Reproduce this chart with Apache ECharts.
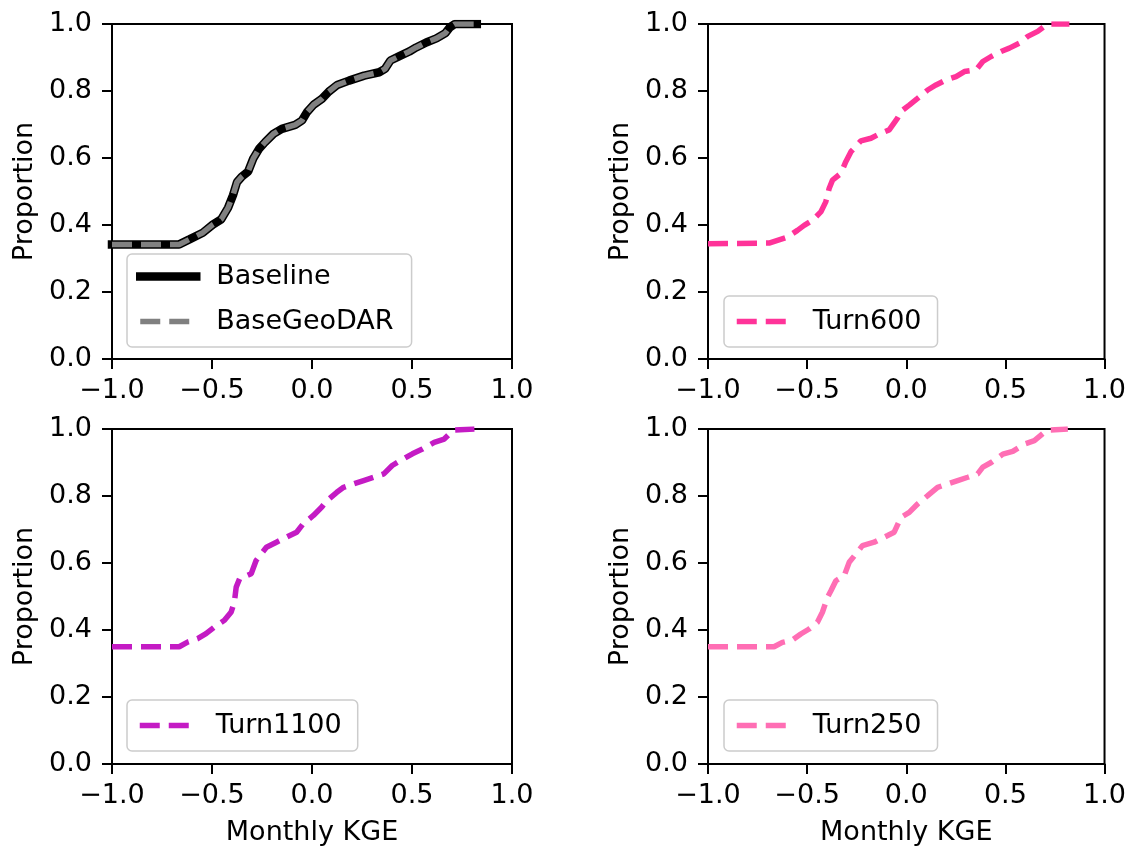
<!DOCTYPE html>
<html>
<head>
<meta charset="utf-8">
<script src="https://cdn.jsdelivr.net/npm/echarts@6/dist/echarts.min.js"></script>
<style>
html,body{margin:0;padding:0;background:#fff;}
#chart{width:1129px;height:848px;}
</style>
</head>
<body>
<div id="chart"></div>
<script>
// ---- data ----
const xTicks = [-1.0, -0.5, 0.0, 0.5, 1.0];
const yTicks = [0.0, 0.2, 0.4, 0.6, 0.8, 1.0];

const baselineX = [-1.000,-0.664,-0.613,-0.546,-0.496,-0.454,-0.420,-0.395,-0.375,-0.353,-0.319,-0.294,-0.264,-0.235,-0.193,-0.151,-0.084,-0.050,-0.025,0.008,0.050,0.084,0.126,0.185,0.261,0.336,0.365,0.392,0.437,0.487,0.521,0.571,0.622,0.667,0.689,0.714,0.824];
const baselineY = [0.342,0.342,0.357,0.377,0.401,0.417,0.451,0.489,0.528,0.543,0.560,0.598,0.628,0.647,0.672,0.687,0.699,0.712,0.737,0.759,0.777,0.798,0.818,0.831,0.846,0.856,0.866,0.891,0.904,0.918,0.930,0.945,0.957,0.973,0.990,1.000,1.000];

const baseGeoDarX = [-1.000,-0.664,-0.613,-0.546,-0.496,-0.454,-0.420,-0.395,-0.375,-0.353,-0.319,-0.294,-0.264,-0.235,-0.193,-0.151,-0.084,-0.050,-0.025,0.008,0.050,0.084,0.126,0.185,0.261,0.336,0.365,0.392,0.437,0.487,0.521,0.571,0.622,0.667,0.689,0.714,0.824];
const baseGeoDarY = [0.342,0.342,0.357,0.377,0.401,0.417,0.451,0.489,0.528,0.543,0.560,0.598,0.628,0.647,0.672,0.687,0.699,0.712,0.737,0.759,0.777,0.798,0.818,0.831,0.846,0.856,0.866,0.891,0.904,0.918,0.930,0.945,0.957,0.973,0.990,1.000,1.000];

const turn600X = [-1.000,-0.692,-0.599,-0.549,-0.515,-0.473,-0.431,-0.406,-0.389,-0.372,-0.330,-0.305,-0.279,-0.229,-0.178,-0.128,-0.086,-0.044,-0.027,0.015,0.057,0.108,0.150,0.200,0.251,0.293,0.352,0.386,0.428,0.478,0.520,0.571,0.613,0.663,0.697,0.722,0.823];
const turn600Y = [0.344,0.346,0.364,0.384,0.399,0.414,0.439,0.469,0.509,0.534,0.554,0.589,0.619,0.651,0.659,0.674,0.684,0.719,0.739,0.758,0.778,0.803,0.818,0.833,0.843,0.858,0.863,0.888,0.903,0.918,0.928,0.943,0.963,0.978,0.993,1.000,1.000];

const turn1100X = [-1.000,-0.664,-0.622,-0.572,-0.530,-0.488,-0.438,-0.404,-0.388,-0.379,-0.362,-0.304,-0.279,-0.228,-0.178,-0.128,-0.077,-0.044,0.007,0.049,0.074,0.124,0.158,0.208,0.258,0.309,0.359,0.401,0.443,0.502,0.552,0.611,0.661,0.695,0.711,0.812];
const turn1100Y = [0.350,0.350,0.364,0.374,0.389,0.409,0.429,0.454,0.484,0.528,0.553,0.568,0.608,0.647,0.662,0.677,0.692,0.717,0.742,0.767,0.786,0.811,0.826,0.836,0.846,0.856,0.866,0.891,0.906,0.926,0.940,0.960,0.970,0.990,0.997,1.000];

const turn250X = [-1.000,-0.667,-0.625,-0.574,-0.532,-0.490,-0.448,-0.423,-0.397,-0.380,-0.355,-0.313,-0.288,-0.254,-0.221,-0.162,-0.094,-0.061,-0.027,0.015,0.057,0.108,0.158,0.209,0.259,0.310,0.360,0.386,0.428,0.487,0.537,0.596,0.646,0.697,0.722,0.815];
const turn250Y = [0.350,0.350,0.363,0.370,0.388,0.403,0.423,0.453,0.498,0.517,0.547,0.562,0.602,0.627,0.652,0.662,0.682,0.692,0.736,0.751,0.776,0.801,0.826,0.836,0.846,0.856,0.866,0.886,0.900,0.925,0.933,0.955,0.965,0.990,0.997,1.000];

const seriesNames = ['Baseline', 'BaseGeoDAR', 'Turn600', 'Turn1100', 'Turn250'];
const xAxisName = 'Monthly KGE';
const yAxisName = 'Proportion';

// ---- build ----
function pairs(xs, ys) { return xs.map((x, i) => [x, ys[i]]); }
const FONT = 'DejaVu Sans';
const FS = 27;

const grids = [
  {left: 112, top: 24, width: 400, height: 335},
  {left: 708, top: 24, width: 398, height: 335},
  {left: 112, top: 429, width: 400, height: 335},
  {left: 708, top: 429, width: 398, height: 335}
].map(g => Object.assign({show: true, borderColor: '#000', borderWidth: 2, backgroundColor: 'transparent', containLabel: false}, g));

function fmtX(v) {
  const r = Math.round(v * 10) / 10;
  return (r < 0 ? '\u2212' : '') + Math.abs(r).toFixed(1);
}
function fmtY(v) { return (Math.round(v * 10) / 10).toFixed(1); }

const axisCommon = {
  axisLine: {show: true, onZero: false, lineStyle: {color: '#000', width: 2}},
  axisTick: {show: true, inside: false, length: 10, lineStyle: {color: '#000', width: 2}},
  splitLine: {show: false},
  nameTextStyle: {fontFamily: FONT, fontSize: FS, color: '#000'}
};

const xAxes = grids.map((g, i) => Object.assign({}, axisCommon, {
  type: 'value', gridIndex: i,
  min: xTicks[0], max: xTicks[xTicks.length - 1], interval: xTicks[1] - xTicks[0],
  axisLabel: {fontFamily: FONT, fontSize: FS, color: '#000', margin: 18, formatter: fmtX, showMinLabel: true, showMaxLabel: true},
  name: i >= 2 ? xAxisName : '', nameLocation: 'middle', nameGap: 55
}));
const yAxes = grids.map((g, i) => Object.assign({}, axisCommon, {
  type: 'value', gridIndex: i,
  min: yTicks[0], max: yTicks[yTicks.length - 1], interval: yTicks[1] - yTicks[0],
  axisLabel: {fontFamily: FONT, fontSize: FS, color: '#000', margin: 20, formatter: fmtY, showMinLabel: true, showMaxLabel: true},
  name: yAxisName, nameLocation: 'middle', nameGap: 74
}));

const colors = {
  Baseline: '#000000',
  BaseGeoDAR: '#808080',
  Turn600: '#ff3399',
  Turn1100: '#c41bc4',
  Turn250: '#ff6eb4'
};
const DASH = [20, 9];

function lineSeries(name, idx, xs, ys, width, dashed, cap) {
  return {
    name: name, type: 'line', xAxisIndex: idx, yAxisIndex: idx,
    data: pairs(xs, ys), symbol: 'none', showSymbol: false, clip: true,
    color: colors[name],
    lineStyle: {color: colors[name], width: width, type: dashed ? DASH : 'solid', cap: cap},
    animation: false, z: 2
  };
}

const series = [
  lineSeries('Baseline', 0, baselineX, baselineY, 8.5, false, 'square'),
  lineSeries('BaseGeoDAR', 0, baseGeoDarX, baseGeoDarY, 5.5, true, 'butt'),
  lineSeries('Turn600', 1, turn600X, turn600Y, 5.5, true, 'butt'),
  lineSeries('Turn1100', 2, turn1100X, turn1100Y, 5.5, true, 'butt'),
  lineSeries('Turn250', 3, turn250X, turn250Y, 5.5, true, 'butt')
];

function legendItem(name, width) {
  return {name: name, itemStyle: {opacity: 0}, lineStyle: {width: width, type: 'inherit'}};
}
const legendBase = {
  orient: 'vertical', itemWidth: 56, itemHeight: 26, itemGap: 18,
  backgroundColor: 'rgba(255,255,255,0.8)', borderColor: '#cccccc', borderWidth: 1.5, borderRadius: 5,
  textStyle: {fontFamily: FONT, fontSize: FS, color: '#000', padding: [0, 0, 0, 15], lineHeight: 26},
  selectedMode: false
};
const legends = [
  Object.assign({}, legendBase, {left: 127, top: 254, padding: [9, 18, 12, 9], data: [legendItem('Baseline', 8.5), legendItem('BaseGeoDAR', 5.5)]}),
  Object.assign({}, legendBase, {left: 724, top: 296, padding: [12, 16, 12, 10], data: [legendItem('Turn600', 5.5)]}),
  Object.assign({}, legendBase, {left: 127, top: 700, padding: [12, 16, 12, 10], data: [legendItem('Turn1100', 5.5)]}),
  Object.assign({}, legendBase, {left: 724, top: 700, padding: [12, 16, 12, 10], data: [legendItem('Turn250', 5.5)]})
];

const chart = echarts.init(document.getElementById('chart'), null, {renderer: 'canvas'});
chart.setOption({
  animation: false,
  backgroundColor: '#ffffff',
  grid: grids,
  xAxis: xAxes,
  yAxis: yAxes,
  legend: legends,
  series: series
});
</script>
</body>
</html>
